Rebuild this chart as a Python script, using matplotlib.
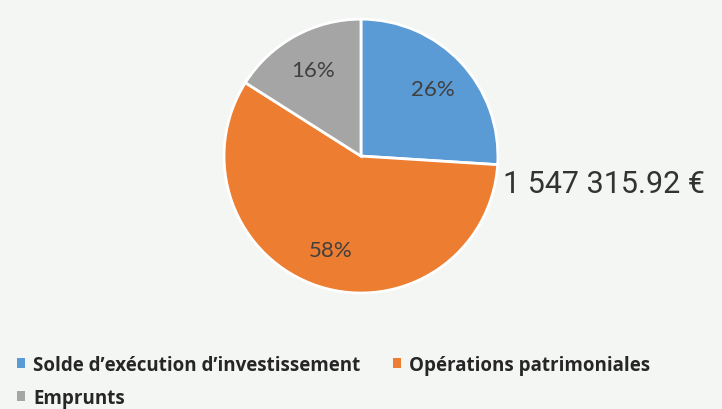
import matplotlib

matplotlib.use("Agg")
import matplotlib.pyplot as plt
from matplotlib.patches import Patch

labels = ["Solde d\u2019exécution d\u2019investissement", "Opérations patrimoniales", "Emprunts"]
shares = [26, 58, 16]
colors = ["#5b9bd5", "#ed7d31", "#a5a5a5"]
total_text = "1 547 315.92 \u20ac"

BG = "#f4f6f3"

fig = plt.figure(figsize=(7.22, 4.10), dpi=100, facecolor=BG)

# pie axes: centre ~ (361, 157) px, radius ~137 px
ax = fig.add_axes([0.3102, 0.2829, 0.3795, 0.668])
ax.set_facecolor(BG)
wedges, texts, autotexts = ax.pie(
    shares,
    colors=colors,
    startangle=90,
    counterclock=False,
    autopct="%d%%",
    pctdistance=0.72,
    radius=1.0,
    wedgeprops=dict(edgecolor="white", linewidth=2),
    textprops=dict(fontsize=16, color="#404040", family=["Lato", "DejaVu Sans"]),
)
ax.set_xlim(-1, 1)
ax.set_ylim(-1, 1)
ax.set_aspect("equal")
ax.axis("off")

fig.text(503 / 722, 1 - 185 / 410, total_text, fontsize=22, color="#333333",
         family=["Roboto", "DejaVu Sans"], va="center", ha="left")

# legend order: row 1 = solde, operations ; row 2 = emprunts
order = [0, 2, 1]
handles = [Patch(facecolor=colors[i], edgecolor="none") for i in order]
fig.legend(
    handles,
    [labels[i] for i in order],
    ncol=2,
    loc="upper left",
    bbox_to_anchor=(0.0, 1 - 339 / 410),
    frameon=False,
    handlelength=0.43,
    handleheight=0.43,
    handletextpad=0.45,
    columnspacing=1.7,
    labelspacing=0.68,
    prop=dict(family=["Open Sans", "DejaVu Sans"], weight="bold", size=13.5),
    labelcolor="#262626",
)

fig.savefig("out.png", dpi=100, facecolor=BG)
